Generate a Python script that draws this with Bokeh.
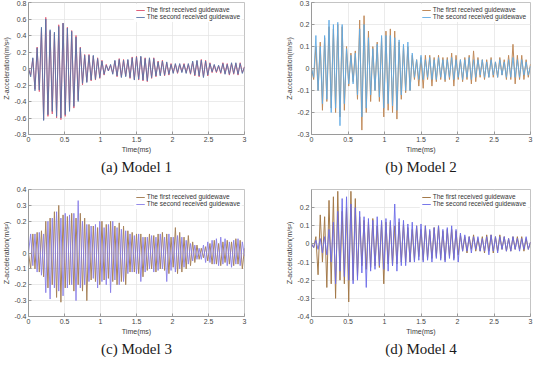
from bokeh.plotting import figure
from bokeh.layouts import column, row
from bokeh.models import FixedTicker, Range1d
from bokeh.embed import file_html
from bokeh.resources import INLINE

# ---------------- data ----------------
sample_step_ms = 0.03
legend_labels = ["The first received guidewave", "The second received guidewave"]
captions = ["(a) Model 1", "(b) Model 2", "(c) Model 3", "(d) Model 4"]

x_ticks = [0, 0.5, 1, 1.5, 2, 2.5, 3]
x_tick_labels = ["0", "0.5", "1", "1.5", "2", "2.5", "3"]

a_y_ticks = [-0.8, -0.6, -0.4, -0.2, 0, 0.2, 0.4, 0.6, 0.8]
a_y_labels = ["-0.8", "-0.6", "-0.4", "-0.2", "0", "0.2", "0.4", "0.6", "0.8"]
b_y_ticks = [-0.3, -0.2, -0.1, 0, 0.1, 0.2, 0.3]
b_y_labels = ["-0.3", "-0.2", "-0.1", "0", "0.1", "0.2", "0.3"]
c_y_ticks = [-0.4, -0.3, -0.2, -0.1, 0, 0.2, 0.3, 0.4]
c_y_labels = ["-0.4", "-0.3", "-0.2", "-0.1", "0", "0.2", "0.3", "0.4"]
d_y_ticks = [-0.4, -0.3, -0.2, -0.1, 0, 0.1, 0.2]
d_y_labels = ["-0.4", "-0.3", "-0.2", "-0.1", "0", "0.1", "0.2"]

model1_first = [0.0, -0.08, 0.12, -0.25, 0.26, -0.28, 0.48, -0.62, 0.62, -0.58,
                0.45, -0.55, 0.42, -0.6, 0.53, -0.62, 0.55, -0.58, 0.5, -0.5,
                0.46, -0.48, 0.4, -0.38, 0.26, -0.2, 0.17, -0.16, 0.17, -0.15,
                0.15, -0.14, 0.13, -0.12, 0.1, -0.08, 0.05, -0.03, 0.04, -0.06,
                0.09, -0.1, 0.12, -0.1, 0.11, -0.09, 0.1, -0.12, 0.14, -0.13,
                0.15, -0.14, 0.14, -0.15, 0.13, -0.16, 0.12, -0.12, 0.13, -0.1,
                0.09, -0.08, 0.1, -0.09, 0.07, -0.08, 0.06, -0.05, 0.05, -0.06,
                0.05, -0.04, 0.06, -0.05, 0.05, -0.07, 0.08, -0.09, 0.09, -0.1,
                0.11, -0.1, 0.1, -0.09, 0.07, -0.05, 0.04, -0.05, 0.03, -0.06,
                0.07, -0.06, 0.06, -0.08, 0.06, -0.07, 0.06, -0.08, 0.07, -0.05,
                0.02]
model1_second = [0.0, -0.1, 0.13, -0.27, 0.25, -0.26, 0.5, -0.63, 0.6, -0.56,
                 0.47, -0.52, 0.44, -0.58, 0.51, -0.6, 0.55, -0.56, 0.49, -0.52,
                 0.45, -0.46, 0.38, -0.4, 0.25, -0.18, 0.16, -0.17, 0.16, -0.14,
                 0.16, -0.13, 0.12, -0.11, 0.09, -0.07, 0.04, -0.03, 0.05, -0.07,
                 0.1, -0.09, 0.11, -0.11, 0.1, -0.1, 0.11, -0.11, 0.13, -0.14,
                 0.14, -0.13, 0.15, -0.14, 0.12, -0.15, 0.13, -0.11, 0.12, -0.09,
                 0.08, -0.09, 0.09, -0.08, 0.08, -0.07, 0.05, -0.06, 0.06, -0.05,
                 0.06, -0.05, 0.05, -0.06, 0.06, -0.06, 0.09, -0.08, 0.1, -0.09,
                 0.1, -0.11, 0.09, -0.08, 0.06, -0.04, 0.05, -0.04, 0.04, -0.05,
                 0.06, -0.07, 0.05, -0.07, 0.07, -0.06, 0.07, -0.07, 0.06, -0.06,
                 0.02]

model2_first = [0.0, -0.05, 0.1, -0.1, 0.12, -0.19, 0.14, -0.15, 0.19, -0.18,
                0.18, -0.2, 0.2, -0.22, 0.19, -0.19, 0.1, -0.08, 0.07, -0.06,
                0.08, -0.14, 0.22, -0.28, 0.24, -0.2, 0.17, -0.15, 0.1, -0.1,
                0.12, -0.15, 0.14, -0.22, 0.17, -0.19, 0.18, -0.2, 0.17, -0.23,
                0.12, -0.14, 0.1, -0.11, 0.1, -0.1, 0.06, -0.05, 0.04, -0.08,
                0.05, -0.09, 0.06, -0.05, 0.06, -0.08, 0.05, -0.06, 0.06, -0.05,
                0.05, -0.06, 0.05, -0.05, 0.07, -0.08, 0.06, -0.05, 0.04, -0.06,
                0.05, -0.05, 0.06, -0.07, 0.08, -0.06, 0.05, -0.04, 0.04, -0.05,
                0.04, -0.04, 0.05, -0.04, 0.03, -0.04, 0.05, -0.03, 0.04, -0.05,
                0.06, -0.05, 0.11, -0.07, 0.06, -0.05, 0.06, -0.05, 0.04, -0.04,
                0.02]
model2_second = [0.0, -0.04, 0.15, -0.1, 0.1, -0.16, 0.15, -0.14, 0.22, -0.2,
                 0.2, -0.18, 0.21, -0.26, 0.2, -0.16, 0.09, -0.07, 0.06, -0.07,
                 0.07, -0.12, 0.18, -0.22, 0.2, -0.18, 0.14, -0.12, 0.09, -0.1,
                 0.11, -0.13, 0.15, -0.18, 0.15, -0.16, 0.15, -0.17, 0.14, -0.19,
                 0.13, -0.12, 0.11, -0.1, 0.12, -0.1, 0.07, -0.04, 0.04, -0.05,
                 0.06, -0.05, 0.04, -0.04, 0.05, -0.05, 0.04, -0.05, 0.05, -0.04,
                 0.04, -0.05, 0.04, -0.04, 0.05, -0.05, 0.04, -0.04, 0.04, -0.05,
                 0.04, -0.04, 0.05, -0.05, 0.04, -0.04, 0.04, -0.03, 0.04, -0.04,
                 0.03, -0.04, 0.04, -0.03, 0.03, -0.04, 0.04, -0.03, 0.03, -0.04,
                 0.04, -0.04, 0.05, -0.04, 0.04, -0.04, 0.04, -0.03, 0.03, -0.03,
                 0.01]

model3_first = [0.0, -0.1, 0.12, -0.1, 0.13, -0.12, 0.14, -0.15, 0.2, -0.22,
                0.22, -0.2, 0.26, -0.28, 0.3, -0.31, 0.24, -0.22, 0.23, -0.2,
                0.25, -0.24, 0.22, -0.2, 0.25, -0.24, 0.22, -0.3, 0.18, -0.17,
                0.17, -0.18, 0.16, -0.2, 0.2, -0.17, 0.18, -0.16, 0.2, -0.18,
                0.17, -0.2, 0.19, -0.18, 0.17, -0.2, 0.14, -0.12, 0.13, -0.12,
                0.12, -0.13, 0.12, -0.15, 0.1, -0.11, 0.12, -0.1, 0.11, -0.12,
                0.12, -0.1, 0.13, -0.11, 0.12, -0.13, 0.1, -0.09, 0.16, -0.13,
                0.13, -0.12, 0.1, -0.1, 0.11, -0.08, 0.07, -0.06, 0.05, -0.04,
                0.03, -0.03, 0.04, -0.05, 0.06, -0.07, 0.08, -0.07, 0.06, -0.08,
                0.07, -0.06, 0.08, -0.07, 0.07, -0.08, 0.09, -0.07, 0.08, -0.1,
                0.03]
model3_second = [0.0, 0.12, -0.08, 0.12, -0.12, 0.13, -0.14, 0.12, -0.25, 0.2,
                 -0.29, 0.22, -0.22, 0.26, -0.24, 0.22, -0.27, 0.25, -0.22, 0.24,
                 -0.2, 0.25, -0.3, 0.33, -0.22, 0.2, -0.2, 0.18, -0.18, 0.17,
                 -0.16, 0.18, -0.22, 0.2, -0.18, 0.16, -0.2, 0.18, -0.25, 0.2,
                 -0.17, 0.16, -0.2, 0.15, -0.18, 0.14, -0.13, 0.12, -0.12, 0.11,
                 -0.13, 0.12, -0.18, 0.1, -0.12, 0.1, -0.1, 0.11, -0.12, 0.1,
                 -0.11, 0.12, -0.1, 0.1, -0.18, 0.12, -0.11, 0.1, -0.12, 0.11,
                 -0.1, 0.1, -0.09, 0.08, -0.07, 0.06, -0.05, 0.05, -0.04, 0.03,
                 -0.04, 0.05, -0.06, 0.07, -0.06, 0.08, -0.07, 0.09, -0.08, 0.1,
                 -0.07, 0.09, -0.08, 0.07, -0.09, 0.08, -0.07, 0.09, -0.08, 0.07,
                 -0.02]

model4_first = [0.0, -0.02, 0.04, -0.17, 0.16, -0.1, 0.15, -0.24, 0.24, -0.22,
                0.26, -0.3, 0.29, -0.2, 0.18, -0.22, 0.2, -0.32, 0.29, -0.2,
                0.25, -0.18, 0.15, -0.12, 0.13, -0.14, 0.12, -0.13, 0.14, -0.12,
                0.1, -0.13, 0.12, -0.22, 0.12, -0.11, 0.12, -0.12, 0.1, -0.11,
                0.12, -0.1, 0.11, -0.1, 0.09, -0.1, 0.08, -0.09, 0.1, -0.07,
                0.08, -0.09, 0.1, -0.08, 0.07, -0.08, 0.09, -0.07, 0.1, -0.08,
                0.07, -0.09, 0.08, -0.07, 0.08, -0.08, 0.07, -0.06, 0.05, -0.04,
                0.04, -0.05, 0.04, -0.03, 0.05, -0.04, 0.03, -0.04, 0.04, -0.05,
                0.05, -0.04, 0.05, -0.05, 0.04, -0.04, 0.05, -0.03, 0.04, -0.04,
                0.03, -0.04, 0.04, -0.03, 0.04, -0.03, 0.04, -0.04, 0.03, -0.03,
                0.01]
model4_second = [0.0, -0.02, 0.02, -0.03, 0.03, -0.05, 0.04, -0.06, 0.08, -0.1,
                 0.12, -0.22, 0.18, -0.15, 0.25, -0.18, 0.26, -0.2, 0.22, -0.22,
                 0.2, -0.2, 0.18, -0.16, 0.15, -0.24, 0.14, -0.15, 0.13, -0.14,
                 0.15, -0.12, 0.13, -0.14, 0.14, -0.15, 0.13, -0.12, 0.22, -0.15,
                 0.14, -0.12, 0.13, -0.12, 0.11, -0.1, 0.12, -0.1, 0.1, -0.09,
                 0.11, -0.1, 0.1, -0.09, 0.08, -0.1, 0.09, -0.08, 0.1, -0.09,
                 0.08, -0.1, 0.09, -0.08, 0.1, -0.09, 0.08, -0.1, 0.06, -0.04,
                 0.05, -0.04, 0.04, -0.05, 0.04, -0.03, 0.04, -0.04, 0.03, -0.04,
                 0.04, -0.06, 0.05, -0.04, 0.04, -0.05, 0.04, -0.03, 0.04, -0.04,
                 0.03, -0.04, 0.04, -0.03, 0.03, -0.04, 0.03, -0.03, 0.04, -0.03,
                 0.01]

# ---------------- styling ----------------
SANS = "Liberation Sans"
SERIF = "Liberation Serif"


def time_axis(series):
    return [round(k * sample_step_ms, 4) for k in range(len(series))]


def make_panel(caption, first, second, colors, y_range, y_ticks, y_labels,
               width, height, border):
    left, right, top, bottom = border
    p = figure(width=width, height=height, output_backend="svg",
               toolbar_location=None,
               x_range=Range1d(0, 3), y_range=Range1d(*y_range),
               title=caption, title_location="below",
               min_border_left=left, min_border_right=right,
               min_border_top=top, min_border_bottom=bottom)
    p.background_fill_color = "white"
    p.border_fill_color = "white"
    p.outline_line_color = "#b5b5b5"
    p.outline_line_width = 0.8

    p.line(time_axis(first), first, color=colors[0], line_width=1.0,
           legend_label=legend_labels[0])
    p.line(time_axis(second), second, color=colors[1], line_width=1.0,
           line_alpha=0.9, legend_label=legend_labels[1])

    p.xaxis.ticker = FixedTicker(ticks=x_ticks)
    p.xaxis.major_label_overrides = dict(zip(x_ticks, x_tick_labels))
    p.yaxis.ticker = FixedTicker(ticks=y_ticks)
    p.yaxis.major_label_overrides = dict(zip(y_ticks, y_labels))
    p.xgrid.ticker = FixedTicker(ticks=x_ticks)
    p.ygrid.ticker = FixedTicker(ticks=y_ticks)
    p.grid.grid_line_color = "#e3e3e3"
    p.grid.grid_line_width = 0.7

    p.xaxis.axis_label = "Time(ms)"
    p.yaxis.axis_label = "Z-acceleration(m/s\u00b2)"
    for ax in (p.xaxis, p.yaxis):
        ax.axis_label_text_font = SANS
        ax.axis_label_text_font_size = "7px"
        ax.axis_label_text_font_style = "normal"
        ax.axis_label_text_color = "#3a3a3a"
        ax.axis_label_standoff = 1
        ax.major_label_text_font = SANS
        ax.major_label_text_font_size = "7px"
        ax.major_label_text_color = "#454545"
        ax.major_label_standoff = 2
        ax.major_tick_in = 3
        ax.major_tick_out = 0
        ax.minor_tick_line_color = None
        ax.axis_line_color = "#9a9a9a"
        ax.major_tick_line_color = "#9a9a9a"

    p.title.text_font = SERIF
    p.title.text_font_size = "15px"
    p.title.text_font_style = "normal"
    p.title.text_color = "#1a1a1a"
    p.title.align = "center"
    p.title.standoff = 2
    p.title.offset = 0

    lg = p.legend[0]
    lg.location = "top_right"
    lg.label_text_font = SANS
    lg.label_text_font_size = "6.5px"
    lg.label_text_color = "#333333"
    lg.label_height = 5
    lg.label_standoff = 2
    lg.glyph_width = 9
    lg.glyph_height = 4
    lg.spacing = 0
    lg.padding = 2
    lg.margin = 2
    lg.border_line_alpha = 0
    lg.background_fill_alpha = 0.95
    return p


pa = make_panel(captions[0], model1_first, model1_second, ("#e0607a", "#5874a8"),
                (-0.8, 0.8), a_y_ticks, a_y_labels, 267, 180, (24, 23, 2, 46))
pb = make_panel(captions[1], model2_first, model2_second, ("#c08a5a", "#62abe4"),
                (-0.3, 0.3), b_y_ticks, b_y_labels, 267, 180, (44, 4, 2, 46))
pc = make_panel(captions[2], model3_first, model3_second, ("#a8845c", "#8a80e8"),
                (-0.4, 0.4), c_y_ticks, c_y_labels, 267, 177, (24, 23, 9, 40))
pd = make_panel(captions[3], model4_first, model4_second, ("#a47a4a", "#6a6ae8"),
                (-0.4, 0.3), d_y_ticks, d_y_labels, 267, 177, (44, 4, 9, 40))

layout = column(row(pa, pb, spacing=0), row(pc, pd, spacing=0), spacing=0)
open("out.html", "w").write(file_html(layout, INLINE))
